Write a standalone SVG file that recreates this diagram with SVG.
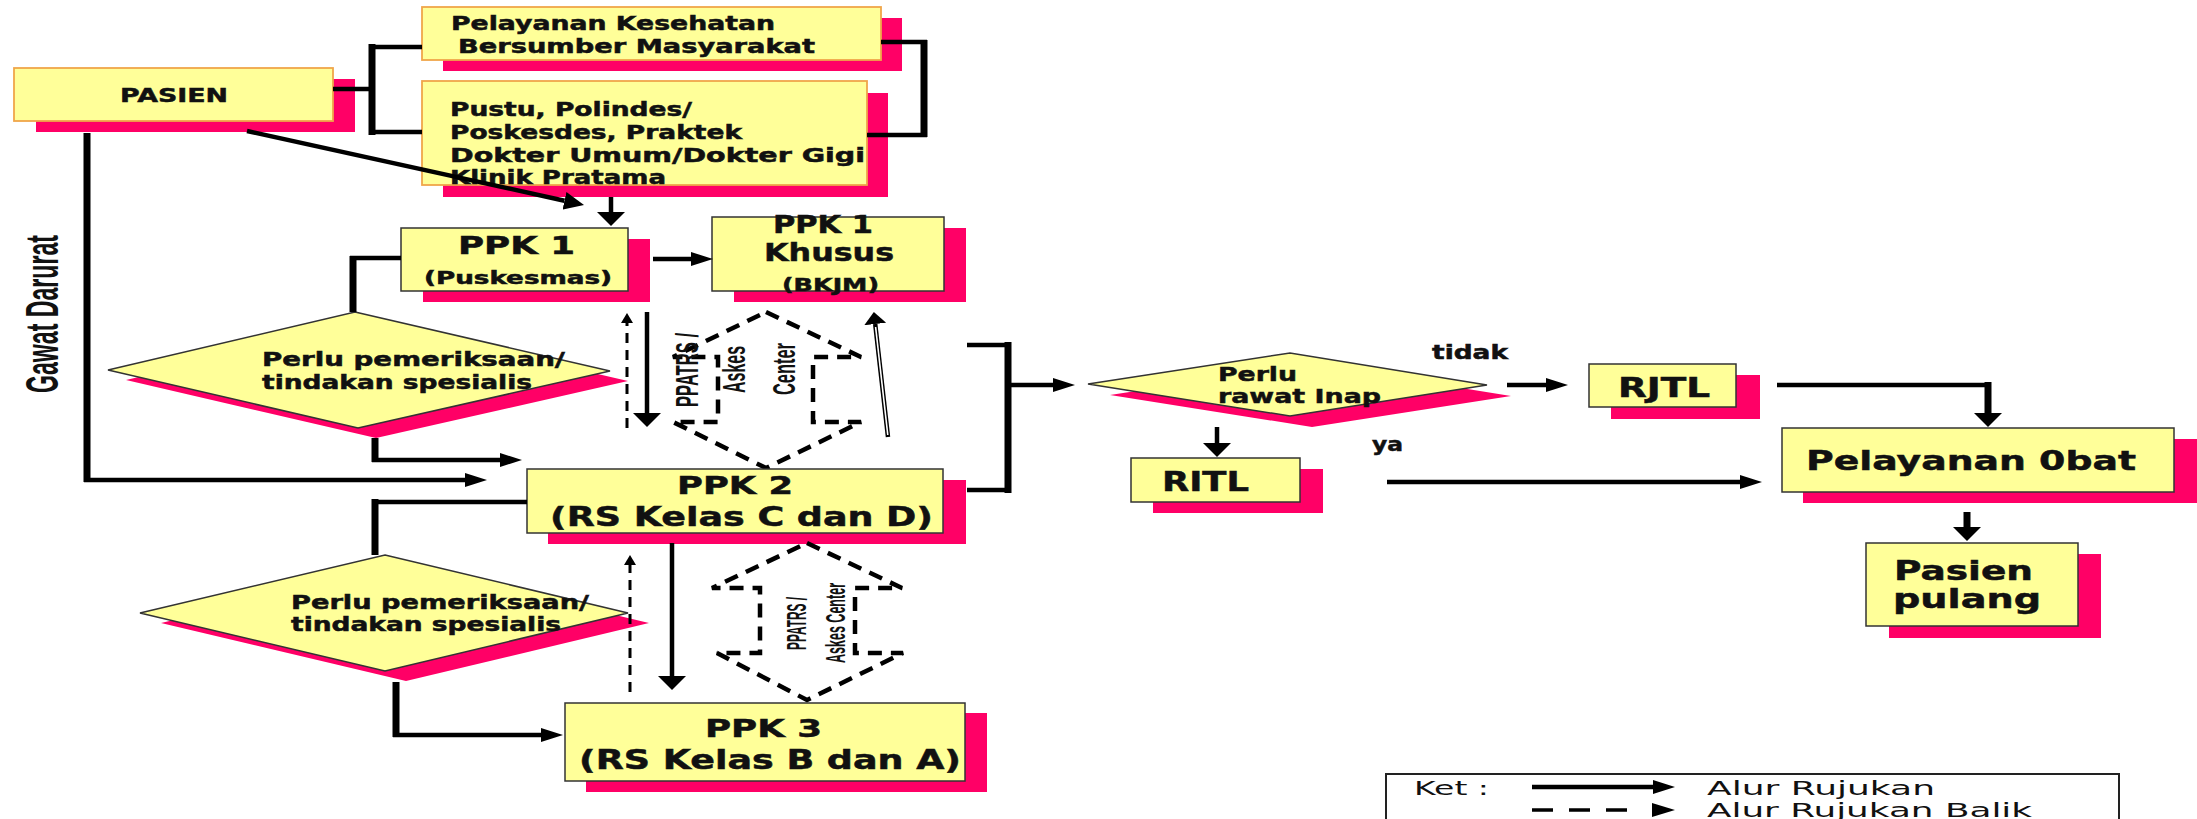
<svg xmlns="http://www.w3.org/2000/svg" width="2197" height="819" viewBox="0 0 2197 819">
<style>
.box{fill:#FFFF99;stroke:#333;stroke-width:1.5}
.boxo{fill:#FFFF99;stroke:#F0A64A;stroke-width:1.8}
.sh{fill:#FF0066}
.t{font-family:"DejaVu Sans",Verdana,sans-serif;font-weight:bold;fill:#111;stroke:#111;stroke-width:0.5}
.n{font-family:"Liberation Sans",Arial,sans-serif;fill:#111}
.lg{font-family:"DejaVu Sans",Verdana,sans-serif;fill:#111}
.ln{fill:none;stroke:#000;stroke-width:4.5}
.lv{fill:none;stroke:#000;stroke-width:7}
.dash{fill:none;stroke:#000;stroke-width:3;stroke-dasharray:10 7}
.hex{fill:none;stroke:#000;stroke-width:4.5;stroke-dasharray:14 9}
</style>
<defs>
<marker id="mh" markerUnits="userSpaceOnUse" orient="auto" viewBox="0 -8 24 16" markerWidth="24" markerHeight="16" refX="0" refY="0"><path d="M0,-7 L22,0 L0,7 Z" fill="#000"/></marker>
<marker id="mv" markerUnits="userSpaceOnUse" orient="auto" viewBox="0 -15 16 30" markerWidth="16" markerHeight="30" refX="0" refY="0"><path d="M0,-14 L14,0 L0,14 Z" fill="#000"/></marker>
<marker id="md" markerUnits="userSpaceOnUse" orient="auto" viewBox="0 -10 22 20" markerWidth="22" markerHeight="20" refX="0" refY="0"><path d="M0,-9 L20,0 L0,9 Z" fill="#000"/></marker>
<marker id="ms" markerUnits="userSpaceOnUse" orient="auto" viewBox="0 -7 12 14" markerWidth="12" markerHeight="14" refX="0" refY="0"><path d="M0,-6 L10,0 L0,6 Z" fill="#000"/></marker>
<marker id="mdl" markerUnits="userSpaceOnUse" orient="auto" viewBox="0 -12 13 24" markerWidth="13" markerHeight="24" refX="0" refY="0"><path d="M0,-11 L12,0 L0,11 Z" fill="#000"/></marker>
</defs>
<rect width="2197" height="819" fill="#fff"/>

<g id="pasien">
<rect class="sh" x="36" y="79" width="319" height="53"/>
<rect class="boxo" x="14" y="68" width="319" height="53"/>
<text class="t" x="120" y="102" font-size="20" textLength="108" lengthAdjust="spacingAndGlyphs">PASIEN</text>
</g>

<g id="ukbm">
<rect class="sh" x="443" y="18" width="459" height="53"/>
<rect class="boxo" x="422" y="7" width="459" height="53"/>
<text class="t" x="451" y="30" font-size="19" textLength="324" lengthAdjust="spacingAndGlyphs">Pelayanan Kesehatan</text>
<text class="t" x="458" y="53" font-size="19" textLength="357" lengthAdjust="spacingAndGlyphs">Bersumber Masyarakat</text>
</g>

<g id="pustu">
<rect class="sh" x="443" y="93" width="445" height="104"/>
<rect class="boxo" x="422" y="81" width="445" height="104"/>
<text class="t" x="450" y="116" font-size="19" textLength="242" lengthAdjust="spacingAndGlyphs">Pustu, Polindes/</text>
<text class="t" x="450" y="139" font-size="19" textLength="292" lengthAdjust="spacingAndGlyphs">Poskesdes, Praktek</text>
<text class="t" x="450" y="162" font-size="19" textLength="415" lengthAdjust="spacingAndGlyphs">Dokter Umum/Dokter Gigi</text>
<text class="t" x="450" y="184" font-size="19" textLength="216" lengthAdjust="spacingAndGlyphs">Klinik Pratama</text>
</g>

<g id="gawat">
<text class="n" font-weight="bold" transform="translate(58,393) rotate(-90) scale(1,1.4)" x="0" y="0" font-size="33" textLength="158" lengthAdjust="spacingAndGlyphs">Gawat Darurat</text>
</g>

<g id="ppk1">
<rect class="sh" x="423" y="239" width="227" height="63"/>
<rect class="box" x="401" y="228" width="227" height="63"/>
<text class="t" x="458" y="254" font-size="25" textLength="117" lengthAdjust="spacingAndGlyphs">PPK 1</text>
<text class="t" x="424" y="284" font-size="17" textLength="188" lengthAdjust="spacingAndGlyphs">(Puskesmas)</text>
</g>

<g id="ppk1khusus">
<rect class="sh" x="734" y="228" width="232" height="74"/>
<rect class="box" x="712" y="217" width="232" height="74"/>
<text class="t" x="773" y="233" font-size="24" textLength="100" lengthAdjust="spacingAndGlyphs">PPK 1</text>
<text class="t" x="764" y="261" font-size="25" textLength="130" lengthAdjust="spacingAndGlyphs">Khusus</text>
<text class="t" x="782" y="291" font-size="17" textLength="97" lengthAdjust="spacingAndGlyphs">(BKJM)</text>
</g>

<g id="diamond1">
<polygon class="sh" points="373,322 628,381 376,438 126,380"/>
<polygon class="box" points="355,312 610,371 358,428 108,370"/>
<text class="t" x="262" y="366" font-size="19" textLength="303" lengthAdjust="spacingAndGlyphs">Perlu pemeriksaan/</text>
<text class="t" x="262" y="389" font-size="19" textLength="270" lengthAdjust="spacingAndGlyphs">tindakan spesialis</text>
</g>

<g id="ppatrs1">
<polygon class="hex" points="766,312 861,357 813,357 813,422 861,422 766,468 673,422 718,422 718,357 673,357"/>
<text class="n" font-weight="bold" transform="translate(698,407) rotate(-90) scale(1,1.45)" font-size="21" textLength="74" lengthAdjust="spacingAndGlyphs">PPATRS /</text>
<text class="n" font-weight="bold" transform="translate(745,393) rotate(-90) scale(1,1.45)" font-size="21" textLength="47" lengthAdjust="spacingAndGlyphs">Askes</text>
<text class="n" font-weight="bold" transform="translate(795,395) rotate(-90) scale(1,1.45)" font-size="21" textLength="52" lengthAdjust="spacingAndGlyphs">Center</text>
</g>

<g id="ppk2">
<rect class="sh" x="548" y="480" width="418" height="64"/>
<rect class="box" x="527" y="469" width="416" height="64"/>
<text class="t" x="677" y="494" font-size="25" textLength="116" lengthAdjust="spacingAndGlyphs">PPK 2</text>
<text class="t" x="550" y="526" font-size="27" textLength="383" lengthAdjust="spacingAndGlyphs">(RS Kelas C dan D)</text>
</g>

<g id="diamond2">
<polygon class="sh" points="405,565 649,623 406,681 161,623"/>
<polygon class="box" points="385,555 628,613 385,671 140,613"/>
<text class="t" x="291" y="609" font-size="19" textLength="298" lengthAdjust="spacingAndGlyphs">Perlu pemeriksaan/</text>
<text class="t" x="291" y="631" font-size="19" textLength="270" lengthAdjust="spacingAndGlyphs">tindakan spesialis</text>
</g>

<g id="ppatrs2">
<polygon class="hex" points="807,543 902,588 855,588 855,653 903,653 807,700 717,653 760,653 760,588 712,588"/>
<text class="n" font-weight="bold" transform="translate(806,650) rotate(-90) scale(1,1.45)" font-size="19" textLength="53" lengthAdjust="spacingAndGlyphs">PPATRS /</text>
<text class="n" font-weight="bold" transform="translate(845,663) rotate(-90) scale(1,1.45)" font-size="19" textLength="80" lengthAdjust="spacingAndGlyphs">Askes Center</text>
</g>

<g id="ppk3">
<rect class="sh" x="586" y="713" width="401" height="79"/>
<rect class="box" x="565" y="703" width="400" height="78"/>
<text class="t" x="705" y="737" font-size="25" textLength="117" lengthAdjust="spacingAndGlyphs">PPK 3</text>
<text class="t" x="579" y="769" font-size="27" textLength="382" lengthAdjust="spacingAndGlyphs">(RS Kelas B dan A)</text>
</g>

<g id="rawatinap">
<polygon class="sh" points="1110,395 1312,364 1511,396 1312,427"/>
<polygon class="box" points="1088,384 1290,353 1487,385 1290,416"/>
<text class="t" x="1218" y="381" font-size="20" textLength="79" lengthAdjust="spacingAndGlyphs">Perlu</text>
<text class="t" x="1218" y="403" font-size="20" textLength="163" lengthAdjust="spacingAndGlyphs">rawat Inap</text>
</g>

<g id="rjtl">
<rect class="sh" x="1611" y="375" width="149" height="44"/>
<rect class="box" x="1589" y="364" width="147" height="43"/>
<text class="t" x="1618" y="397" font-size="26" textLength="92" lengthAdjust="spacingAndGlyphs">RJTL</text>
</g>

<g id="ritl">
<rect class="sh" x="1153" y="469" width="170" height="44"/>
<rect class="box" x="1131" y="458" width="169" height="44"/>
<text class="t" x="1162" y="491" font-size="27" textLength="87" lengthAdjust="spacingAndGlyphs">RITL</text>
</g>

<g id="obat">
<rect class="sh" x="1803" y="439" width="394" height="64"/>
<rect class="box" x="1782" y="428" width="392" height="64"/>
<text class="t" x="1806" y="470" font-size="27" textLength="330" lengthAdjust="spacingAndGlyphs">Pelayanan 0bat</text>
</g>

<g id="pulang">
<rect class="sh" x="1889" y="554" width="212" height="84"/>
<rect class="box" x="1866" y="543" width="212" height="83"/>
<text class="t" x="1894" y="580" font-size="27" textLength="139" lengthAdjust="spacingAndGlyphs">Pasien</text>
<text class="t" x="1893" y="608" font-size="27" textLength="148" lengthAdjust="spacingAndGlyphs">pulang</text>
</g>

<g id="labels">
<text class="t" x="1432" y="359" font-size="19" textLength="76" lengthAdjust="spacingAndGlyphs">tidak</text>
<text class="t" x="1372" y="451" font-size="19" textLength="31" lengthAdjust="spacingAndGlyphs">ya</text>
</g>

<g id="connectors">
<path class="ln" d="M333,89 H372"/>
<path class="lv" d="M372,44 V135"/>
<path class="ln" d="M369,47 H422 M369,132 H422"/>
<path class="ln" d="M881,42 H927 M867,135 H927"/>
<path class="lv" d="M924,40 V137"/>
<line class="ln" x1="247" y1="131" x2="564.5" y2="200.7" marker-end="url(#md)"/>
<line class="ln" stroke-width="5" x1="611" y1="197" x2="611" y2="212" marker-end="url(#mv)"/>
<line class="lv" stroke-width="8" x1="87" y1="133" x2="87" y2="482"/>
<line class="ln" x1="84" y1="480" x2="465" y2="480" marker-end="url(#mh)"/>
<line class="lv" x1="353" y1="312" x2="353" y2="256"/>
<line class="ln" x1="350" y1="258" x2="401" y2="258"/>
<line class="lv" x1="375" y1="438" x2="375" y2="462"/>
<line class="ln" x1="372" y1="460" x2="500" y2="460" marker-end="url(#mh)"/>
<line class="ln" x1="653" y1="259" x2="691" y2="259" marker-end="url(#mh)"/>
<line class="dash" x1="627" y1="428" x2="627" y2="323" marker-end="url(#ms)"/>
<line class="ln" stroke-width="5" x1="647" y1="312" x2="647" y2="413" marker-end="url(#mv)"/>
<line class="ln" stroke-width="6" x1="888" y1="437" x2="875.2" y2="324" marker-end="url(#mdl)"/>
<line fill="none" stroke="#fff" stroke-width="1.6" x1="887.8" y1="435" x2="875.6" y2="327"/>
<path class="ln" d="M967,345 H1011 M1011,490 H967"/>
<line class="lv" x1="1008" y1="342" x2="1008" y2="493"/>
<line class="ln" x1="1008" y1="385" x2="1053" y2="385" marker-end="url(#mh)"/>
<line class="ln" x1="527" y1="502" x2="372" y2="502"/>
<line class="lv" x1="375" y1="499" x2="375" y2="555"/>
<line class="lv" x1="396" y1="682" x2="396" y2="737"/>
<line class="ln" x1="393" y1="735" x2="541" y2="735" marker-end="url(#mh)"/>
<line class="ln" stroke-width="6" x1="672" y1="543" x2="672" y2="676" marker-end="url(#mv)"/>
<line class="dash" x1="630" y1="692" x2="630" y2="565" marker-end="url(#ms)"/>
<line class="ln" x1="1507" y1="385" x2="1546" y2="385" marker-end="url(#mh)"/>
<line class="ln" stroke-width="6" x1="1217" y1="427" x2="1217" y2="443" marker-end="url(#mv)"/>
<line class="ln" x1="1387" y1="482" x2="1740" y2="482" marker-end="url(#mh)"/>
<path class="ln" d="M1777,385 H1991"/>
<line class="lv" x1="1988" y1="382" x2="1988" y2="413" marker-end="url(#mv)"/>
<line class="lv" x1="1967" y1="512" x2="1967" y2="527" marker-end="url(#mv)"/>
</g>

<g id="legend">
<rect x="1386" y="774" width="733" height="70" fill="#fff" stroke="#222" stroke-width="2"/>
<text class="lg" x="1414" y="795" font-size="19" textLength="75" lengthAdjust="spacingAndGlyphs">Ket :</text>
<line class="ln" x1="1532" y1="787" x2="1653" y2="787" marker-end="url(#mh)"/>
<text class="lg" x="1707" y="795" font-size="19" textLength="228" lengthAdjust="spacingAndGlyphs">Alur Rujukan</text>
<line fill="none" stroke="#000" stroke-width="3.5" stroke-dasharray="21 16" x1="1532" y1="810" x2="1628" y2="810"/>
<polygon points="1652,803 1675,810 1652,817" fill="#000"/>
<text class="lg" x="1707" y="817" font-size="19" textLength="325" lengthAdjust="spacingAndGlyphs">Alur Rujukan Balik</text>
</g>
</svg>
